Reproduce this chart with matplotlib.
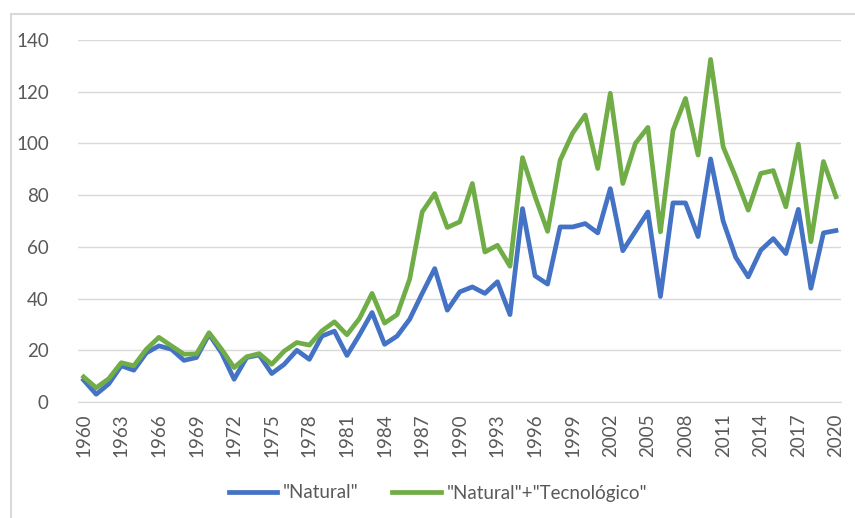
import matplotlib
matplotlib.use("Agg")
import matplotlib.pyplot as plt
from matplotlib.patches import Rectangle

years = list(range(1960, 2021))
natural = [8.5, 3, 7, 14, 12.3, 19, 21.7, 20.4, 16.1, 17.2,
           26.2, 19, 8.8, 17.2, 18.2, 11, 14.6, 20, 16.5, 25.5,
           27.4, 18, 26, 34.6, 22.3, 25.5, 32, 42, 51.6, 35.5,
           42.6, 44.5, 42, 46.5, 33.8, 74.8, 48.8, 45.6, 67.7, 67.7,
           69, 65.4, 82.5, 58.5, 66, 73.5, 40.8, 77, 77, 64,
           94, 70, 56, 48.4, 58.7, 63.2, 57.4, 74.5, 44, 65.4, 66.3]
combined = [9.7, 5.5, 9, 15.2, 14, 20.4, 25, 21.7, 18.5, 18.6,
            26.8, 20.4, 13.3, 17.5, 18.7, 14.6, 19.7, 23, 22, 27.5,
            31, 26, 32.3, 42, 30.5, 33.8, 47.5, 73.5, 80.6, 67.5,
            69.7, 84.5, 58, 60.6, 52.5, 94.5, 79.5, 66, 93.5, 104,
            111, 90.3, 119.4, 84.5, 100, 106.2, 65.8, 105, 117.4, 95.5,
            132.5, 98.7, 87, 74.2, 88.4, 89.5, 75.5, 99.7, 62, 93, 79.4]
xtick_years = list(range(1960, 2021, 3))
yticks = [0, 20, 40, 60, 80, 100, 120, 140]
labels = ['"Natural"', '"Natural"+"Tecnológico"']

plt.rcParams['font.family'] = ['Lato', 'DejaVu Sans']

fig = plt.figure(figsize=(8.55, 5.18), dpi=100)
fig.patches.append(Rectangle((11/855, -0.1), 2, 1.1 - 14/518, transform=fig.transFigure,
                             fill=False, edgecolor='#d9d9d9', linewidth=1.5))
ax = fig.add_axes([78/855, 1 - 402/518, (841 - 78)/855, (402 - 40)/518])

ax.plot(years, natural, color='#4472C4', linewidth=3.4, label=labels[0], solid_joinstyle='round')
ax.plot(years, combined, color='#70AD47', linewidth=3.4, label=labels[1], solid_joinstyle='round')

ax.set_ylim(0, 140)
ax.set_xlim(1960 - 0.45, 2020 + 0.4)
ax.set_yticks(yticks)
ax.set_xticks(xtick_years)
ax.set_xticklabels([str(y) for y in xtick_years], rotation=90)
ax.grid(axis='y', color='#d9d9d9', linewidth=1)
ax.set_axisbelow(True)
for s in ['top', 'right', 'left']:
    ax.spines[s].set_visible(False)
ax.spines['bottom'].set_color('#d9d9d9')
ax.tick_params(axis='y', length=0, labelsize=13.5, colors='#595959', pad=21)
ax.tick_params(axis='x', length=0, labelsize=13.5, colors='#595959', pad=8)

leg = fig.legend(loc='center', bbox_to_anchor=(438/855, 1 - 493/518), ncol=2, frameon=False,
                 fontsize=13.5, handlelength=2.6, handletextpad=0.3, columnspacing=1.8,
                 labelcolor='#595959')

fig.savefig('out.png', dpi=100)
